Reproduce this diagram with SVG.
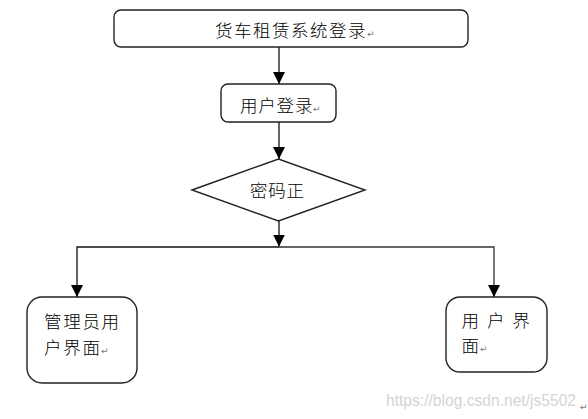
<svg xmlns="http://www.w3.org/2000/svg" width="588" height="419" viewBox="0 0 588 419">
<style>
.box{fill:#fff;stroke:#222;stroke-width:1.4}
.t{font-family:"Noto Sans CJK SC","Liberation Serif",serif;font-size:17.5px;font-weight:300;fill:#000}
.rm{font-family:"DejaVu Sans",sans-serif;font-size:9px;fill:#777}
.ln{fill:none;stroke:#111;stroke-width:1.3}
.wm{font-family:"Liberation Sans",Arial,sans-serif;font-size:16px;fill:#d4d4d4}
</style>
<defs>
<marker id="ah" markerUnits="userSpaceOnUse" markerWidth="12" markerHeight="14" refX="10" refY="5" orient="auto" viewBox="0 0 10 10">
<path d="M0,0 L10,5 L0,10 z" fill="#000"/>
</marker>
</defs>
<rect width="588" height="419" fill="#fff"/>
<g id="connectors">
<line class="ln" x1="279" y1="47" x2="279" y2="84" marker-end="url(#ah)"/>
<line class="ln" x1="279" y1="122" x2="279" y2="159" marker-end="url(#ah)"/>
<line class="ln" x1="279" y1="221" x2="279" y2="246.5" marker-end="url(#ah)"/>
<polyline class="ln" points="279,247 77,247 77,297" marker-end="url(#ah)"/>
<polyline class="ln" points="279,247 494,247 494,297" marker-end="url(#ah)" style="stroke:#333"/>
</g>
<g id="node-login-system">
<rect class="box" x="114" y="10" width="354" height="37" rx="7"/>
<text class="t" x="215" y="36.5" letter-spacing="1.5">货车租赁系统登录</text>
<text class="rm" x="367" y="37">↵</text>
</g>
<g id="node-user-login">
<rect class="box" x="221" y="84" width="115" height="38" rx="7"/>
<text class="t" x="240" y="111.5" letter-spacing="0.8">用户登录</text>
<text class="rm" x="313" y="112">↵</text>
</g>
<g id="node-password">
<polygon class="box" points="192,190 278.5,159 365,190 278.5,221"/>
<text class="t" x="250" y="196.5" letter-spacing="0.8">密码正</text>
</g>
<g id="node-admin">
<rect class="box" x="27" y="297" width="110" height="86" rx="15"/>
<text class="t" x="44" y="327.5" letter-spacing="1.7">管理员用</text>
<text class="t" x="44" y="353.5" letter-spacing="1.7">户界面</text>
<text class="rm" x="101" y="354">↵</text>
</g>
<g id="node-user">
<rect class="box" x="446" y="297" width="101" height="75" rx="14"/>
<text class="t" x="461.5" y="326.5" letter-spacing="8">用户界</text>
<text class="t" x="461.5" y="351.5">面</text>
<text class="rm" x="480" y="352">↵</text>
</g>
<text class="wm" x="386" y="406" textLength="190" lengthAdjust="spacingAndGlyphs">https://blog.csdn.net/js5502</text>
<text class="rm" x="580" y="410">↵</text>
</svg>
